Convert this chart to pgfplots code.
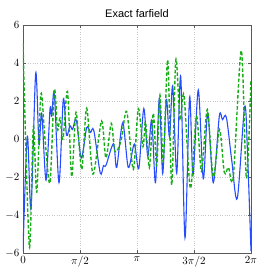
\documentclass[border=0pt]{standalone}
\usepackage{pgfplots}
\pgfplotsset{compat=1.18}
\usepackage{fontspec}
\setmainfont{Liberation Sans}
\definecolor{myblue}{rgb}{0.15,0.3,1}
\definecolor{mygreen}{rgb}{0.1,0.68,0.1}
\begin{document}
\begin{tikzpicture}
\begin{axis}[
  scale only axis,
  width=228pt, height=228pt,
  xmin=0, xmax=6.283185, ymin=-6, ymax=6,
  xtick={0,1.570796,3.141593,4.712389,6.283185},
  xticklabels={$0$,$\pi/2$,$\pi$,$3\pi/2$,$2\pi$},
  ytick={-6,-4,-2,0,2,4,6},
  grid=major,
  major grid style={dotted, gray!45},
  axis line style={black!65},
  tick style={black!65},
  tick align=inside,
  major tick length=3pt,
  title={\fontsize{11}{13}\selectfont Exact farfield},
  title style={yshift=-2pt},
  tick label style={font=\fontsize{11}{13}\selectfont},
]
\addplot[myblue, line width=1.1pt, smooth, tension=0.5] coordinates {
(0,-5.9) (0.1185,0.15) (0.2205,-3.65) (0.350,3.46) (0.441,-0.3) (0.515,1.37)
(0.634,-2.16) (0.744,1.57) (0.791,1.2) (0.863,2.4) (0.992,-2.3) (1.111,2.1)
(1.199,0.2) (1.295,0.7) (1.364,0.5) (1.469,1.0) (1.607,-1.0) (1.755,0.6)
(1.860,0.35) (1.951,0.45) (2.130,-1.8) (2.218,-1.4) (2.287,-1.38) (2.494,-0.25)
(2.582,-1.5) (2.748,0.85) (2.902,-1.5) (3.067,-0.27) (3.191,-1.55) (3.329,1.6)
(3.439,-0.9) (3.547,1.0) (3.651,-2.3) (3.756,2.14) (3.850,-1.82) (3.949,2.09)
(4.037,0.1) (4.125,2.8) (4.236,-1.8) (4.346,3.3) (4.464,-5.2) (4.591,2.2)
(4.685,-1.9) (4.831,2.58) (4.969,-2.1) (5.090,1.37) (5.244,-2.3) (5.410,1.21)
(5.498,1.02) (5.605,1.14) (5.751,-1.1) (5.906,-3.12) (6.110,1.72) (6.192,-1.0)
(6.283,-5.9)
};
\addplot[mygreen, line width=1.4pt, dash pattern=on 3.5pt off 2pt, smooth, tension=0.5] coordinates {
(0,5.03) (0.174,-5.67) (0.284,0.65) (0.380,-2.8) (0.493,2.37) (0.606,0.0)
(0.744,-2.3) (0.863,2.6) (0.951,0.5) (1.020,1.1) (1.102,0.0) (1.226,2.5)
(1.342,-1.98) (1.461,1.4) (1.618,-1.6) (1.755,1.62) (1.929,-1.85) (2.163,0.95)
(2.287,-1.0) (2.433,0.82) (2.535,-0.67) (2.701,-0.1) (2.858,1.45) (3.040,-1.6)
(3.177,1.6) (3.307,-0.4) (3.376,0.9) (3.481,-1.5) (3.591,1.35) (3.684,-1.4)
(3.775,2.3) (3.866,-1.2) (3.988,4.16) (4.098,-2.42) (4.211,4.16) (4.327,1.0)
(4.437,2.3) (4.613,-2.6) (4.781,1.2) (4.919,-1.7) (5.079,1.55) (5.244,-2.0)
(5.415,0.5) (5.547,-1.75) (5.663,-1.5) (5.795,-2.0) (6.016,4.65) (6.156,-2.07)
(6.283,3.1)
};
\end{axis}
\pgfresetboundingbox
\useasboundingbox ([shift={(-23pt,-20pt)}]current axis.south west) rectangle ([shift={(11pt,25pt)}]current axis.north east);
\end{tikzpicture}
\end{document}
